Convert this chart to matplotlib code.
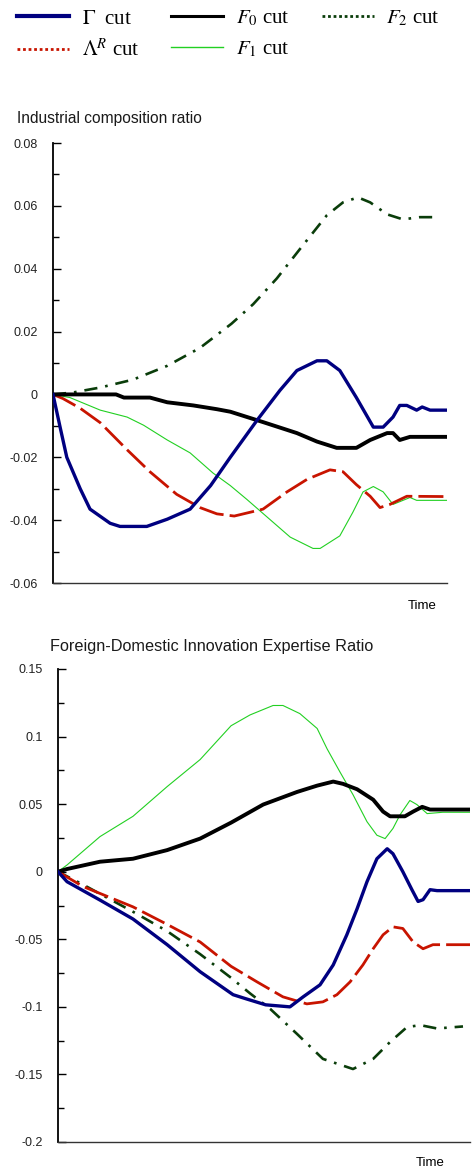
import matplotlib
matplotlib.use('Agg')
import matplotlib.pyplot as plt
from matplotlib.lines import Line2D
from matplotlib.ticker import MultipleLocator

plt.rcParams['font.family'] = ['Liberation Sans', 'DejaVu Sans']
plt.rcParams['mathtext.fontset'] = 'stix'

# ---- data (time in 0..100) ----
# top panel: Industrial composition ratio
top_gamma_t = [0, 1.8, 3.5, 6.9, 9.4, 14.5, 17, 23.8, 29, 34.8, 40, 45, 51.8, 57.6, 61.9, 67, 69.5,
               72.8, 77, 81.3, 83.8, 86.3, 88, 89.8, 92.3, 93.7, 95.7, 100]
top_gamma = [0, -0.0104, -0.02, -0.030, -0.0365, -0.041, -0.042, -0.042, -0.0397, -0.0365, -0.029,
             -0.0200, -0.0082, 0.0013, 0.0076, 0.0107, 0.0107, 0.0076, -0.001, -0.0104, -0.0104,
             -0.0072, -0.0035, -0.0035, -0.005, -0.004, -0.005, -0.005]

top_f0_t = [0, 16, 18, 24.6, 29, 35.6, 41.6, 45, 53.3, 61.9, 67, 72, 77, 80.5, 84.8, 86.3, 88, 90.6, 100]
top_f0 = [0, 0, -0.001, -0.001, -0.0025, -0.0035, -0.0047, -0.0055, -0.0088, -0.0123, -0.015, -0.017,
          -0.017, -0.0145, -0.0123, -0.0123, -0.0145, -0.0135, -0.0135]

top_lam_t = [0, 2.5, 6.9, 12, 18.8, 24.6, 31.4, 37.3, 41.6, 46, 50, 53.3, 59.4, 64.5, 70.3, 73.6, 77,
             80.5, 83, 85.5, 89.8, 100]
top_lam = [0, -0.0013, -0.0044, -0.009, -0.0176, -0.0246, -0.0318, -0.036, -0.038, -0.0387, -0.0375,
           -0.0365, -0.031, -0.027, -0.024, -0.0246, -0.0287, -0.0324, -0.036, -0.035, -0.0324, -0.0325]

top_f1_t = [0, 4.3, 12, 18.8, 23, 29, 34.8, 40.6, 45, 49.2, 55.8, 60.2, 66, 67.8, 72.8, 76.1, 78.7,
            81.3, 83.8, 86.3, 90.6, 92.3, 100]
top_f1 = [0, -0.001, -0.005, -0.0072, -0.0098, -0.0145, -0.0186, -0.025, -0.029, -0.0334, -0.0406,
          -0.0454, -0.049, -0.049, -0.045, -0.0375, -0.031, -0.0293, -0.031, -0.035, -0.0328, -0.0337, -0.0337]

top_f2_t = [0, 5, 12, 20.3, 29, 37.3, 45.3, 50.8, 56.8, 62.7, 69.5, 73.6, 77.4, 80.5, 84.8, 88.8, 93.1, 97.5]
top_f2 = [0, 0.0006, 0.0022, 0.0047, 0.0091, 0.0148, 0.0225, 0.0287, 0.0369, 0.0463, 0.057, 0.0611,
          0.0627, 0.0611, 0.0573, 0.0557, 0.0564, 0.0564]

# bottom panel: Foreign-Domestic Innovation Expertise Ratio
bot_gamma_t = [0, 2.2, 10.2, 18.2, 26.5, 34.5, 42.5, 45.6, 50.4, 56.3, 59.5, 63.6, 66.8, 70.1, 72.6,
               75, 77.4, 79.9, 81.3, 83.7, 85.9, 87.4, 88.6, 90.3, 92, 100]
bot_gamma = [0, -0.0074, -0.021, -0.035, -0.054, -0.074, -0.091, -0.094, -0.0985, -0.1, -0.0926,
             -0.0837, -0.069, -0.0467, -0.0274, -0.0074, 0.0096, 0.017, 0.0133, 0, -0.0133, -0.022,
             -0.0207, -0.0133, -0.014, -0.014]

bot_f0_t = [0, 2.2, 10.2, 18.2, 26.5, 34.5, 42, 49.8, 58, 62.9, 66.8, 69.2, 72.6, 76.5, 78.9, 80.6,
            84.2, 86.2, 88.4, 90.3, 100]
bot_f0 = [0, 0.002, 0.0074, 0.0096, 0.016, 0.0245, 0.0363, 0.0497, 0.059, 0.0637, 0.0667, 0.065,
          0.061, 0.0533, 0.0445, 0.041, 0.041, 0.0445, 0.048, 0.046, 0.046]

bot_lam_t = [0, 6.1, 18.2, 26.5, 34.5, 42, 48.3, 54.6, 60.4, 64.3, 67.7, 70.9, 74, 76.5, 78.9, 81.3,
             83.7, 86.2, 88.6, 91, 100]
bot_lam = [0, -0.011, -0.026, -0.039, -0.052, -0.070, -0.0815, -0.0926, -0.0978, -0.0963, -0.091,
           -0.0815, -0.069, -0.057, -0.0467, -0.0408, -0.042, -0.052, -0.057, -0.054, -0.054]

bot_f1_t = [0, 2.2, 10.2, 18.2, 26.5, 34.5, 42, 46.6, 52.2, 54.6, 58.7, 62.9, 65.3, 68.4, 71.6, 75,
            77.4, 79.4, 81.3, 83, 85.4, 87.1, 89.6, 93.4, 100]
bot_f1 = [0, 0.005, 0.026, 0.041, 0.063, 0.083, 0.108, 0.116, 0.123, 0.123, 0.117, 0.106, 0.091, 0.074,
          0.057, 0.037, 0.027, 0.0245, 0.032, 0.042, 0.0527, 0.0497, 0.043, 0.044, 0.044]

bot_f2_t = [0, 6.1, 18.2, 26.5, 34.5, 42, 46.6, 51.5, 58, 64.3, 71.6, 76.5, 80.6, 84.7, 87.9, 92, 98.3]
bot_f2 = [0, -0.0096, -0.0296, -0.044, -0.061, -0.0785, -0.09, -0.1015, -0.12, -0.1385, -0.146,
          -0.1385, -0.126, -0.115, -0.1135, -0.116, -0.1145]

# ---- styles ----
c_gamma = '#000080'
c_f0 = '#000000'
c_lam = '#c81400'
c_f1 = '#22d022'
c_f2 = '#0a3d0a'

fig = plt.figure(figsize=(4.75, 11.71), dpi=100)


def draw_panel(ax, series, ylim, step):
    for t, v, kw in series:
        ax.plot(t, v, **kw)
    ax.set_xlim(0, 100)
    ax.set_ylim(*ylim)
    ax.spines['top'].set_visible(False)
    ax.spines['right'].set_visible(False)
    ax.spines['left'].set_linewidth(1.3)
    ax.spines['bottom'].set_linewidth(1.0)
    ax.spines['bottom'].set_color('#333333')
    ax.set_xticks([])
    ax.yaxis.set_major_locator(MultipleLocator(step))
    ax.yaxis.set_minor_locator(MultipleLocator(step / 2))
    ax.tick_params(axis='y', which='major', direction='in', length=6, width=1.0, pad=11,
                   labelsize=9, labelcolor='#222222')
    ax.tick_params(axis='y', which='minor', direction='in', length=4, width=1.0)


def kws(name):
    return {
        'gamma': dict(color=c_gamma, lw=2.4, zorder=5),
        'f0': dict(color=c_f0, lw=2.8, zorder=4),
        'lam': dict(color=c_lam, lw=2.0, dashes=(9, 2.2), zorder=3),
        'f1': dict(color=c_f1, lw=0.8, zorder=2),
        'f2': dict(color=c_f2, lw=1.9, dashes=(5, 3, 1, 3), zorder=1),
    }[name]


ax1 = fig.add_axes([53 / 475, 1 - 583 / 1171, (447 - 53) / 475, (583 - 143) / 1171])
draw_panel(ax1, [(top_f2_t, top_f2, kws('f2')), (top_f1_t, top_f1, kws('f1')),
                 (top_lam_t, top_lam, kws('lam')), (top_f0_t, top_f0, kws('f0')),
                 (top_gamma_t, top_gamma, kws('gamma'))], (-0.06, 0.08), 0.02)
ax1.yaxis.set_major_formatter(plt.FuncFormatter(lambda v, p: '0' if abs(v) < 1e-9 else f'{v:.2f}'))

ax2 = fig.add_axes([58 / 475, 1 - 1142 / 1171, (470 - 58) / 475, (1142 - 669) / 1171])
draw_panel(ax2, [(bot_f2_t, bot_f2, kws('f2')), (bot_f1_t, bot_f1, kws('f1')),
                 (bot_lam_t, bot_lam, kws('lam')), (bot_f0_t, bot_f0, kws('f0')),
                 (bot_gamma_t, bot_gamma, kws('gamma'))], (-0.2, 0.15), 0.05)
ax2.yaxis.set_major_formatter(plt.FuncFormatter(lambda v, p: '0' if abs(v) < 1e-9 else f'{v:g}'))

fig.text(17 / 475, 1 - 118 / 1171, 'Industrial composition ratio', fontsize=11.2, va='center',
         color='#1a1a1a')
fig.text(50 / 475, 1 - 646 / 1171, 'Foreign-Domestic Innovation Expertise Ratio', fontsize=11.7,
         va='center', color='#1a1a1a')
fig.text(422 / 475, 1 - 606 / 1171, 'Time', fontsize=9.5, ha='center', va='center')
fig.text(430 / 475, 1 - 1163 / 1171, 'Time', fontsize=9.5, ha='center', va='center')

# legend
handles = [
    Line2D([], [], color=c_gamma, lw=3),
    Line2D([], [], color=c_lam, lw=2, linestyle=(0, (1, 1))),
    Line2D([], [], color=c_f0, lw=2.2),
    Line2D([], [], color=c_f1, lw=1),
    Line2D([], [], color=c_f2, lw=2, linestyle=(0, (1, 1))),
]
labels = [r'$\Gamma$  cut', r'$\Lambda^R$ cut', r'$F_0$ cut', r'$F_1$ cut', r'$F_2$ cut']
leg = fig.legend(handles, labels, ncol=3, loc='upper left', bbox_to_anchor=(17 / 475, 1 - 9 / 1171),
                 frameon=False, prop={'family': 'Liberation Serif', 'size': 15},
                 handlelength=2.5, handletextpad=0.6, columnspacing=1.55, labelspacing=0.5,
                 borderaxespad=0, borderpad=0)

fig.savefig('out.png', dpi=100)
